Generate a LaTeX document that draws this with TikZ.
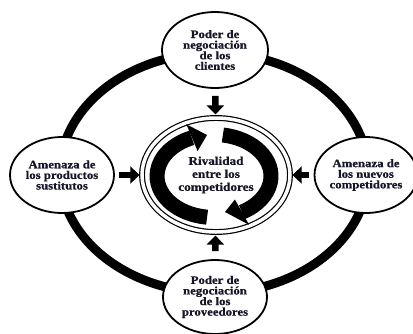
\documentclass[tikz,border=0pt]{standalone}
\usepackage{fontspec}
\newfontfamily\forcefont{Liberation Serif}[FakeStretch=1.12, BoldFeatures={FakeStretch=1.12, FakeBold=0.8}]
\usetikzlibrary{shapes.geometric,arrows.meta}
\definecolor{inkdark}{RGB}{22,22,40}

\begin{document}
\begin{tikzpicture}[x=1pt,y=-1pt,
  force/.style={ellipse, draw, line width=1.8pt, fill=white, inner sep=0pt,
    align=center, text=inkdark, font=\forcefont\bfseries\fontsize{11.4}{10.6}\selectfont},
  push/.style={line width=6.5pt, -{Triangle[length=9pt,width=17pt]}},
  swirl/.style={line width=15pt}
]
\useasboundingbox (0,0) rectangle (413,333);

% outer ring linking the four forces
\coordinate (hub) at (214,173);
\draw[line width=9pt] (hub) ellipse [x radius=154, y radius=120];

% the four forces
\node[force, minimum width=106pt, minimum height=76pt] (clientes) at (215,50)
  {Poder de\\negociación\\de los\\clientes};
\node[force, minimum width=104pt, minimum height=74pt] (proveedores) at (215,297)
  {Poder de\\negociación\\de los\\proveedores};
\node[force, minimum width=104pt, minimum height=76pt] (sustitutos) at (62,175)
  {Amenaza de\\los productos\\sustitutos};
\node[force, minimum width=94pt, minimum height=76pt] (nuevos) at (366,175)
  {Amenaza de\\los nuevos\\competidores};

% central rivalry
\node[ellipse, draw, line width=1.2pt, double, double distance=3.5pt, fill=white,
  minimum width=148pt, minimum height=114pt, inner sep=0pt, align=center,
  text=inkdark, font=\forcefont\bfseries\fontsize{11.8}{13}\selectfont] (rival) at (216,175)
  {Rivalidad\\entre los\\competidores};

% circling arrows inside the rivalry
\coordinate (swirlc) at (214,176);
\begin{scope}[shift={(swirlc)}]
  \draw[swirl] (-6.9,41.2) arc [start angle=97, end angle=247, x radius=57, y radius=41.5];
  \fill (-27.6,-51.7) -- (-16.4,-24.9) -- (-7,-41) -- cycle;
  \draw[swirl] (8.9,-41.0) arc [start angle=279, end angle=420.6, x radius=57, y radius=41.5];
  \fill (35.1,48.8) -- (20.9,23.5) -- (11,36) -- cycle;
\end{scope}

% pressure of each force on the rivalry
\draw[push, shorten <=7pt, shorten >=3pt] (clientes) -- (rival);
\draw[push, shorten <=8pt, shorten >=3pt] (proveedores) -- (rival);
\draw[push, shorten <=4pt, shorten >=2pt] (sustitutos) -- (rival);
\draw[push, shorten <=5pt, shorten >=2pt] (nuevos) -- (rival);
\end{tikzpicture}
\end{document}
